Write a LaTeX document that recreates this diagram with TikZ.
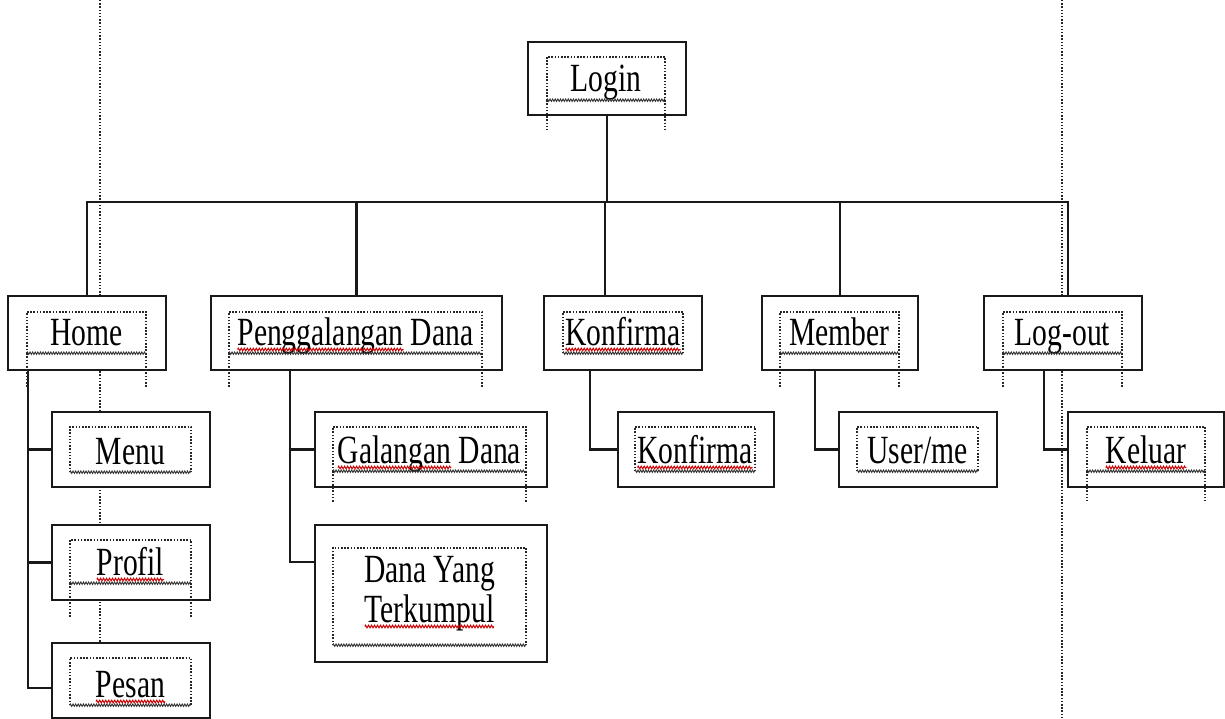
\documentclass[tikz,border=0pt]{standalone}
\usepackage{fontspec}
\usetikzlibrary{decorations.pathmorphing,calc}
\newfontfamily\cond[FakeStretch=0.74]{Liberation Serif}
\newlength\wtmp
\newcommand\measure[2]{\settowidth{\wtmp}{\cond\fontsize{40}{40}\selectfont #2}\expandafter\xdef\csname wm#1\endcsname{\the\wtmp}}
\AtBeginDocument{%
  \measure{PengF}{Penggalangan Dana}%
  \measure{Peng}{Penggalangan}%
  \measure{GalF}{Galangan Dana}%
  \measure{Gal}{Galangan}%
  \measure{Konf}{Konfirma}%
  \measure{Prof}{Profil}%
  \measure{Pesan}{Pesan}%
  \measure{Terk}{Terkumpul}%
  \measure{Kel}{Keluar}%
}
\tikzset{
  obox/.style={draw=black!90, line width=2.3pt, fill=white, inner sep=0pt},
  tframe/.style={inner sep=0pt, text depth=8pt, font=\cond\fontsize{40}{40}\selectfont},
  dots/.style={line width=1.5pt, dash pattern=on 1.5pt off 1.7pt, black!85},
  zig/.style={decorate, decoration={zigzag,segment length=2.6pt,amplitude=1.2pt}, line width=0.9pt, black!80},
  redwave/.style={decorate, decoration={zigzag,segment length=3pt,amplitude=1.3pt}, line width=1pt, red!80!black},
  conn/.style={line width=2.3pt, black!90},
}
\newcommand\frameedges[2]{%
  \draw[dots] (#1.south west) -- (#1.north west) -- (#1.north east) -- (#1.south east);
  \draw[zig] (#1.south west) -- (#1.south east);
  \ifx&#2&\else
    \draw[dots] (#1.south west) -- ++(0,#2);
    \draw[dots] (#1.south east) -- ++(0,#2);
  \fi}
% red spelling wave in node #1: line width key #2, first word key #3
\newcommand\wave[3]{%
  \draw[redwave] ([xshift=-0.5*\csname wm#2\endcsname, yshift=-4.5pt]#1.base) -- ++(\csname wm#3\endcsname,0pt);}
\begin{document}
\begin{tikzpicture}[x=1pt,y=-1pt]
\useasboundingbox (0,0) rectangle (1225,719);
% page margin lines
\draw[dots] (100,0) -- (100,719);
\draw[dots] (1062,0) -- (1062,719);
% outer boxes
\node[obox, minimum width=158pt, minimum height=73pt] (login) at (607,78.5) {};
\node[obox, minimum width=158pt, minimum height=74pt] (home) at (87,333) {};
\node[obox, minimum width=291pt, minimum height=74pt] (peng) at (356.5,333) {};
\node[obox, minimum width=158pt, minimum height=74pt] (konf) at (623,333) {};
\node[obox, minimum width=156pt, minimum height=74pt] (memb) at (840,333) {};
\node[obox, minimum width=158pt, minimum height=74pt] (logo) at (1063,333) {};
\node[obox, minimum width=158pt, minimum height=75pt] (menu) at (131,449.5) {};
\node[obox, minimum width=158pt, minimum height=75pt] (prof) at (131,562.5) {};
\node[obox, minimum width=158pt, minimum height=75pt] (pesan) at (131,680.5) {};
\node[obox, minimum width=232pt, minimum height=75pt] (gal) at (431,449.5) {};
\node[obox, minimum width=232pt, minimum height=137pt] (dana) at (431,593.5) {};
\node[obox, minimum width=156pt, minimum height=75pt] (konf2) at (696,449.5) {};
\node[obox, minimum width=158pt, minimum height=75pt] (user) at (918,449.5) {};
\node[obox, minimum width=156pt, minimum height=75pt] (kel) at (1146,449.5) {};
% connectors
\coordinate (bus) at (0,202);
\draw[conn] (login.south) -- (login.south |- bus);
\draw[conn] (home.north) |- ([xshift=5pt]logo.north |- bus) -- ([xshift=5pt]logo.north);
\draw[conn] (peng.north) -- (peng.north |- bus);
\draw[conn] ([xshift=-18pt]konf.north) -- ([xshift=-18pt]konf.north |- bus);
\draw[conn] (memb.north) -- (memb.north |- bus);
\coordinate (hv) at ([xshift=21pt]home.south west);
\draw[conn] (hv) |- ([yshift=-7.5pt]pesan.west);
\draw[conn] (menu.west) -- (menu.west -| hv);
\draw[conn] (prof.west) -- (prof.west -| hv);
\coordinate (pv) at ([xshift=80pt]peng.south west);
\draw[conn] (pv) |- ([yshift=-38pt]dana.north west);
\draw[conn] (gal.west) -- (gal.west -| pv);
\draw[conn] ([xshift=47pt]konf.south west) |- (konf2.west);
\draw[conn] ([xshift=54pt]memb.south west) |- (user.west);
\draw[conn] ([xshift=61pt]logo.south west) |- (kel.west);
% text frames
\node[tframe, minimum width=118pt, minimum height=43pt, text height=35pt] (loginT) at (606,78.5) {Login};
\node[tframe, minimum width=119pt, minimum height=41pt, text height=33pt] (homeT) at (86.5,332.5) {Home};
\node[tframe, minimum width=253pt, minimum height=41pt, text height=33pt] (pengT) at (355.5,332.5) {Penggalangan Dana};
\node[tframe, minimum width=120pt, minimum height=41pt, text height=33pt] (konfT) at (623,332.5) {Konfirma};
\node[tframe, minimum width=119pt, minimum height=41pt, text height=33pt] (membT) at (839.5,332.5) {Member};
\node[tframe, minimum width=119pt, minimum height=41pt, text height=33pt] (logoT) at (1062.5,332.5) {Log-out};
\node[tframe, minimum width=121pt, minimum height=45pt, text height=37pt] (menuT) at (130.5,449.5) {Menu};
\node[tframe, minimum width=121pt, minimum height=43pt, text height=35pt] (profT) at (130.5,561.5) {Profil};
\node[tframe, minimum width=121pt, minimum height=47pt, text height=39pt] (pesanT) at (130.5,681.5) {Pesan};
\node[tframe, minimum width=193pt, minimum height=44pt, text height=36pt] (galT) at (429.5,449) {Galangan Dana};
\node[tframe, minimum width=193pt, minimum height=97pt, text height=74pt, text depth=23pt] (danaT) at (429.5,596.5) {\begin{tabular}[b]{@{}c@{}}Dana Yang\\Terkumpul\end{tabular}};
\node[tframe, minimum width=120pt, minimum height=44pt, text height=36pt] (konf2T) at (695,449) {Konfirma};
\node[tframe, minimum width=121pt, minimum height=44pt, text height=36pt] (userT) at (917.5,449) {User/me};
\node[tframe, minimum width=118pt, minimum height=44pt, text height=36pt] (kelT) at (1146,449) {Keluar};
\frameedges{loginT}{30}
\frameedges{homeT}{34}
\frameedges{pengT}{34}
\frameedges{konfT}{}
\frameedges{membT}{34}
\frameedges{logoT}{34}
\frameedges{menuT}{}
\frameedges{profT}{34}
\frameedges{pesanT}{}
\frameedges{galT}{31}
\frameedges{danaT}{}
\frameedges{konf2T}{}
\frameedges{userT}{}
\frameedges{kelT}{29}
% spelling waves
\wave{pengT}{PengF}{Peng}
\wave{konfT}{Konf}{Konf}
\wave{profT}{Prof}{Prof}
\wave{pesanT}{Pesan}{Pesan}
\wave{galT}{GalF}{Gal}
\wave{danaT}{Terk}{Terk}
\wave{konf2T}{Konf}{Konf}
\wave{kelT}{Kel}{Kel}
\end{tikzpicture}
\end{document}
